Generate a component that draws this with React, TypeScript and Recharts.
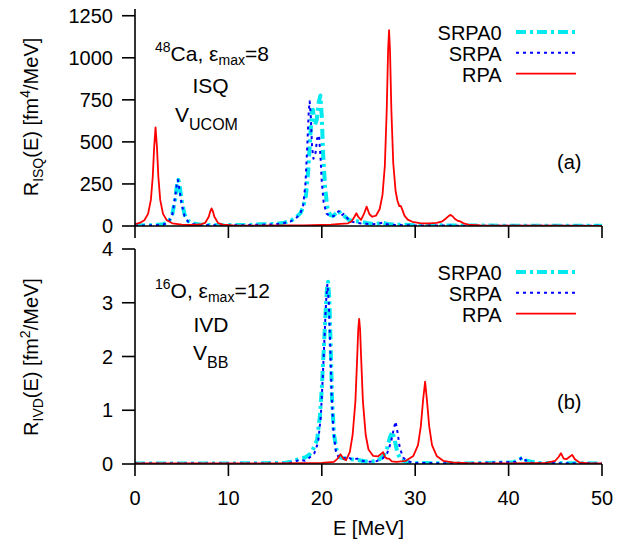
import React from 'react';
import { LineChart, Line, XAxis, YAxis, Legend } from 'recharts';

// ---------- axes / labels ----------
const xTicks = [0, 10, 20, 30, 40, 50];
const topYTicks = [0, 250, 500, 750, 1000, 1250];
const bottomYTicks = [0, 1, 2, 3, 4];
const seriesNames = ['SRPA0', 'SRPA', 'RPA'];

// ---------- top panel: 48Ca, ISQ, V_UCOM ----------
const srpa0Top: [number, number][] = [
  [0, 3], [2, 5], [3, 10], [3.6, 25], [4.0, 70], [4.3, 160], [4.5, 245], [4.65, 274], [4.8, 230],
  [5.0, 150], [5.3, 70], [5.7, 30], [6.2, 15], [7, 8], [9, 5], [12, 6], [13.5, 10], [15, 12],
  [16, 20], [16.7, 32], [17.3, 55], [17.7, 75], [18.0, 110], [18.3, 180], [18.55, 330], [18.75, 520],
  [18.95, 680], [19.05, 691], [19.25, 600], [19.45, 630], [19.65, 730], [19.85, 776], [20.0, 650],
  [20.15, 420], [20.35, 230], [20.6, 110], [20.9, 65], [21.2, 60], [21.5, 75], [21.8, 91], [22.05, 70],
  [22.3, 66], [22.6, 50], [22.9, 36], [23.5, 28], [24.2, 26], [24.8, 18], [25.5, 12], [26.3, 15],
  [26.6, 18], [27.0, 12], [28, 8], [30, 5], [35, 3], [40, 2], [50, 2],
];
const srpaTop: [number, number][] = [
  [0, 2], [2, 4], [3, 8], [3.6, 22], [4.0, 70], [4.3, 170], [4.5, 260], [4.6, 274], [4.75, 220],
  [5.0, 130], [5.3, 60], [5.7, 25], [6.2, 12], [7, 6], [9, 4], [12, 5], [13.5, 8], [15, 10],
  [16, 18], [16.7, 28], [17.3, 50], [17.7, 75], [18.0, 120], [18.25, 250], [18.45, 480], [18.6, 680],
  [18.7, 741], [18.82, 650], [18.95, 480], [19.1, 400], [19.3, 420], [19.5, 520], [19.7, 540],
  [19.85, 420], [20.0, 260], [20.2, 140], [20.5, 75], [20.9, 55], [21.3, 60], [21.6, 80], [21.85, 88],
  [22.1, 62], [22.35, 72], [22.6, 55], [23.0, 30], [23.6, 20], [24.3, 15], [25.2, 10], [26.0, 12],
  [26.5, 20], [27.0, 10], [28, 6], [30, 3], [35, 2], [40, 1], [50, 1],
];
const rpaTop: [number, number][] = [
  [0, 11], [0.5, 18], [1.0, 34], [1.4, 72], [1.7, 155], [1.9, 293], [2.05, 469], [2.2, 586],
  [2.35, 469], [2.5, 293], [2.7, 155], [3.0, 72], [3.4, 34], [4.0, 16], [5.0, 8], [6.0, 6], [7.0, 9],
  [7.5, 18], [7.9, 55], [8.05, 86], [8.2, 105], [8.35, 86], [8.5, 55], [8.9, 17], [9.4, 8], [10.5, 4],
  [13, 2], [16, 3], [18, 4], [20, 6], [21, 8], [22, 13], [22.8, 16], [23.2, 28], [23.5, 55], [23.7, 76],
  [23.9, 55], [24.2, 36], [24.5, 70], [24.8, 115], [25.1, 70], [25.4, 55], [25.8, 61], [26.2, 101],
  [26.5, 185], [26.75, 358], [26.95, 687], [27.1, 1048], [27.2, 1164], [27.3, 1048], [27.45, 687],
  [27.65, 373], [27.9, 208], [28.1, 150], [28.3, 118], [28.45, 119], [28.6, 100], [28.85, 62],
  [29.2, 38], [29.7, 25], [30.5, 17], [31.5, 15], [32.3, 18], [32.9, 28], [33.3, 45], [33.6, 60],
  [33.8, 66], [34.0, 58], [34.3, 40], [34.6, 30], [34.9, 26], [35.2, 15], [35.7, 8], [37, 4], [40, 2],
  [45, 2], [50, 1],
];

// ---------- bottom panel: 16O, IVD, V_BB ----------
const srpa0Bottom: [number, number][] = [
  [0, 0.01], [10, 0.01], [16, 0.02], [17, 0.05], [17.6, 0.1], [18.2, 0.12], [18.7, 0.18], [19.0, 0.25],
  [19.5, 0.45], [19.8, 0.9], [20.0, 1.4], [20.2, 2.1], [20.4, 2.8], [20.55, 3.25], [20.67, 3.39],
  [20.8, 3.1], [20.95, 2.2], [21.1, 1.2], [21.3, 0.55], [21.6, 0.25], [22.0, 0.12], [22.5, 0.1],
  [23, 0.09], [23.5, 0.08], [24, 0.07], [25, 0.04], [26, 0.06], [26.6, 0.15], [27.0, 0.3], [27.3, 0.5],
  [27.55, 0.6], [27.8, 0.45], [28.1, 0.2], [28.5, 0.07], [29.5, 0.02], [35, 0.01], [40.5, 0.03],
  [41.2, 0.09], [41.5, 0.12], [41.9, 0.06], [43, 0.02], [50, 0.01],
];
const srpaBottom: [number, number][] = [
  [0, 0.01], [10, 0.01], [16, 0.01], [17, 0.03], [17.6, 0.08], [18.2, 0.06], [18.7, 0.12], [19.2, 0.2],
  [19.6, 0.4], [19.9, 0.9], [20.1, 1.6], [20.3, 2.4], [20.45, 3.0], [20.6, 3.35], [20.75, 3.0],
  [20.9, 2.2], [21.05, 1.3], [21.25, 0.6], [21.5, 0.25], [21.8, 0.12], [22.3, 0.1], [22.8, 0.14],
  [23.2, 0.08], [23.8, 0.1], [24.3, 0.06], [25, 0.04], [25.8, 0.05], [26.5, 0.1], [27.0, 0.2],
  [27.4, 0.4], [27.7, 0.65], [27.9, 0.79], [28.1, 0.6], [28.35, 0.3], [28.7, 0.12], [29.2, 0.05],
  [30, 0.02], [35, 0.01], [40.8, 0.04], [41.3, 0.1], [41.5, 0.13], [41.8, 0.07], [42.5, 0.02], [50, 0.01],
];
const rpaBottom: [number, number][] = [
  [0, 0.01], [15, 0.01], [20, 0.02], [21.3, 0.04], [21.7, 0.1], [22.0, 0.18], [22.3, 0.1], [22.6, 0.07],
  [23.0, 0.22], [23.3, 0.54], [23.6, 1.17], [23.8, 2.03], [23.9, 2.5], [24.0, 2.7], [24.1, 2.5],
  [24.2, 2.03], [24.4, 1.17], [24.7, 0.54], [25.0, 0.27], [25.5, 0.15], [26.0, 0.14], [26.3, 0.18],
  [26.56, 0.22], [26.8, 0.12], [27.0, 0.1], [27.2, 0.1], [27.5, 0.05], [28, 0.04], [29, 0.06],
  [29.8, 0.15], [30.3, 0.35], [30.6, 0.7], [30.85, 1.2], [31.06, 1.53], [31.25, 1.2], [31.5, 0.7],
  [31.8, 0.35], [32.3, 0.15], [33, 0.06], [34, 0.03], [36, 0.01], [40, 0.01], [44, 0.02], [45.0, 0.06],
  [45.35, 0.13], [45.6, 0.2], [45.9, 0.1], [46.2, 0.09], [46.5, 0.13], [46.8, 0.17], [47.1, 0.09],
  [47.6, 0.03], [48.5, 0.01], [50, 0.01],
];

// ---------- styling ----------
const FONT = '"Liberation Sans", Arial, Helvetica, sans-serif';
const seriesStyle: Record<string, { stroke: string; width: number; dash?: string }> = {
  SRPA0: { stroke: '#00eaf0', width: 4, dash: '10 4 3 4' },
  SRPA: { stroke: '#0000ff', width: 2, dash: '3 4' },
  RPA: { stroke: '#ff0000', width: 1.8 },
};
const AXIS_W = 1.6;

const rows = (pts: [number, number][]) => pts.map(([e, r]) => ({ e, r }));

function LegendBox() {
  const ys = [22, 42.7, 63.7];
  return (
    <svg width={190} height={72} style={{ overflow: 'visible' }}>
      {seriesNames.map((n, i) => {
        const s = seriesStyle[n];
        return (
          <g key={n}>
            <text x={101.7} y={ys[i]} textAnchor="end" fontFamily={FONT} fontSize={20} fill="#000">
              {n}
            </text>
            <line
              x1={116}
              x2={176}
              y1={ys[i] - 8}
              y2={ys[i] - 8}
              stroke={s.stroke}
              strokeWidth={s.width}
              strokeDasharray={s.dash}
            />
          </g>
        );
      })}
    </svg>
  );
}

type PanelProps = {
  top: number;
  height: number;
  marginTop: number;
  xAxisHeight: number;
  legendTop: number;
  yDomain: [number, number];
  yTicks: number[];
  showXLabels: boolean;
  data: [number, number][][];
};

function Panel({ top, height, marginTop, xAxisHeight, legendTop, yDomain, yTicks, showXLabels, data }: PanelProps) {
  const tickStyle = { fontSize: 20, fill: '#000', fontFamily: FONT };
  return (
    <div style={{ position: 'absolute', left: 0, top }}>
      <LineChart width={637} height={height} margin={{ top: marginTop, right: 35, bottom: 0, left: 0 }}>
        <XAxis
          xAxisId="b"
          type="number"
          dataKey="e"
          domain={[0, 50]}
          ticks={xTicks}
          interval={0}
          height={xAxisHeight}
          tickSize={12}
          tickMargin={15}
          tick={tickStyle}
          tickFormatter={showXLabels ? (v: number) => String(v) : () => ''}
          stroke="#000"
          strokeWidth={AXIS_W}
          allowDataOverflow
        />
        <XAxis
          xAxisId="t"
          orientation="top"
          type="number"
          dataKey="e"
          domain={[0, 50]}
          height={0}
          tick={false}
          tickLine={false}
          stroke="#000"
          strokeWidth={AXIS_W}
        />
        <YAxis
          yAxisId="l"
          type="number"
          domain={yDomain}
          ticks={yTicks}
          interval={0}
          width={135}
          tickSize={13}
          tickMargin={9}
          tick={tickStyle}
          stroke="#000"
          strokeWidth={AXIS_W}
          allowDataOverflow
        />
        <YAxis
          yAxisId="r"
          orientation="right"
          type="number"
          domain={yDomain}
          width={0}
          tick={false}
          tickLine={false}
          stroke="#000"
          strokeWidth={AXIS_W}
        />
        {seriesNames.map((n, i) => {
          const s = seriesStyle[n];
          return (
            <Line
              key={n}
              name={n}
              xAxisId="b"
              yAxisId="l"
              data={rows(data[i])}
              dataKey="r"
              type="linear"
              stroke={s.stroke}
              strokeWidth={s.width}
              strokeDasharray={s.dash}
              strokeLinejoin="round"
              dot={false}
              activeDot={false}
              isAnimationActive={false}
            />
          );
        })}
        <Legend
          layout="horizontal"
          verticalAlign="middle"
          align="center"
          wrapperStyle={{ position: 'absolute', top: legendTop, left: 400, width: 190, height: 72 }}
          content={() => <LegendBox />}
        />
      </LineChart>
    </div>
  );
}

function Annotations() {
  const sub = 14;
  return (
    <svg
      width={637}
      height={541}
      style={{ position: 'absolute', left: 0, top: 0, pointerEvents: 'none' }}
      fontFamily={FONT}
      fill="#000"
    >
      {/* top panel */}
      <text x={155} y={61} fontSize={21}>
        <tspan fontSize={sub} dy={-9}>48</tspan>
        <tspan dy={9}>Ca, ε</tspan>
        <tspan fontSize={sub} dy={4}>max</tspan>
        <tspan dy={-4}>=8</tspan>
      </text>
      <text x={210.5} y={93} fontSize={21} textAnchor="middle">ISQ</text>
      <text x={175} y={121.5} fontSize={21}>
        V<tspan fontSize={sub + 2} dy={8}>UCOM</tspan>
      </text>
      <text x={557} y={169} fontSize={20}>(a)</text>

      {/* bottom panel */}
      <text x={155} y={298} fontSize={21}>
        <tspan fontSize={sub} dy={-9}>16</tspan>
        <tspan dy={9}>O, ε</tspan>
        <tspan fontSize={sub} dy={4}>max</tspan>
        <tspan dy={-4}>=12</tspan>
      </text>
      <text x={211} y={331.5} fontSize={21} textAnchor="middle">IVD</text>
      <text x={193} y={360} fontSize={21}>
        V<tspan fontSize={sub + 2} dy={8}>BB</tspan>
      </text>
      <text x={557} y={409} fontSize={20}>(b)</text>

      {/* axis titles */}
      <text transform="translate(38,117) rotate(-90)" fontSize={20} textAnchor="middle">
        R<tspan fontSize={sub} dy={5}>ISQ</tspan>
        <tspan dy={-5}>(E) [fm</tspan>
        <tspan fontSize={sub} dy={-8}>4</tspan>
        <tspan dy={8}>/MeV]</tspan>
      </text>
      <text transform="translate(38,357) rotate(-90)" fontSize={20} textAnchor="middle">
        R<tspan fontSize={sub} dy={5}>IVD</tspan>
        <tspan dy={-5}>(E) [fm</tspan>
        <tspan fontSize={sub} dy={-8}>2</tspan>
        <tspan dy={8}>/MeV]</tspan>
      </text>
      <text x={368.5} y={535} fontSize={20} textAnchor="middle">E [MeV]</text>
    </svg>
  );
}

export default function App() {
  return (
    <div style={{ position: 'absolute', left: 0, top: 0, width: 637, height: 541, background: '#fff' }}>
      <Panel
        top={0}
        height={240}
        marginTop={9}
        xAxisHeight={14}
        legendTop={18}
        yDomain={[0, 1290]}
        yTicks={topYTicks}
        showXLabels={false}
        data={[srpa0Top, srpaTop, rpaTop]}
      />
      <Panel
        top={228}
        height={313}
        marginTop={21}
        xAxisHeight={77}
        legendTop={30}
        yDomain={[0, 4]}
        yTicks={bottomYTicks}
        showXLabels={true}
        data={[srpa0Bottom, srpaBottom, rpaBottom]}
      />
      <Annotations />
    </div>
  );
}
